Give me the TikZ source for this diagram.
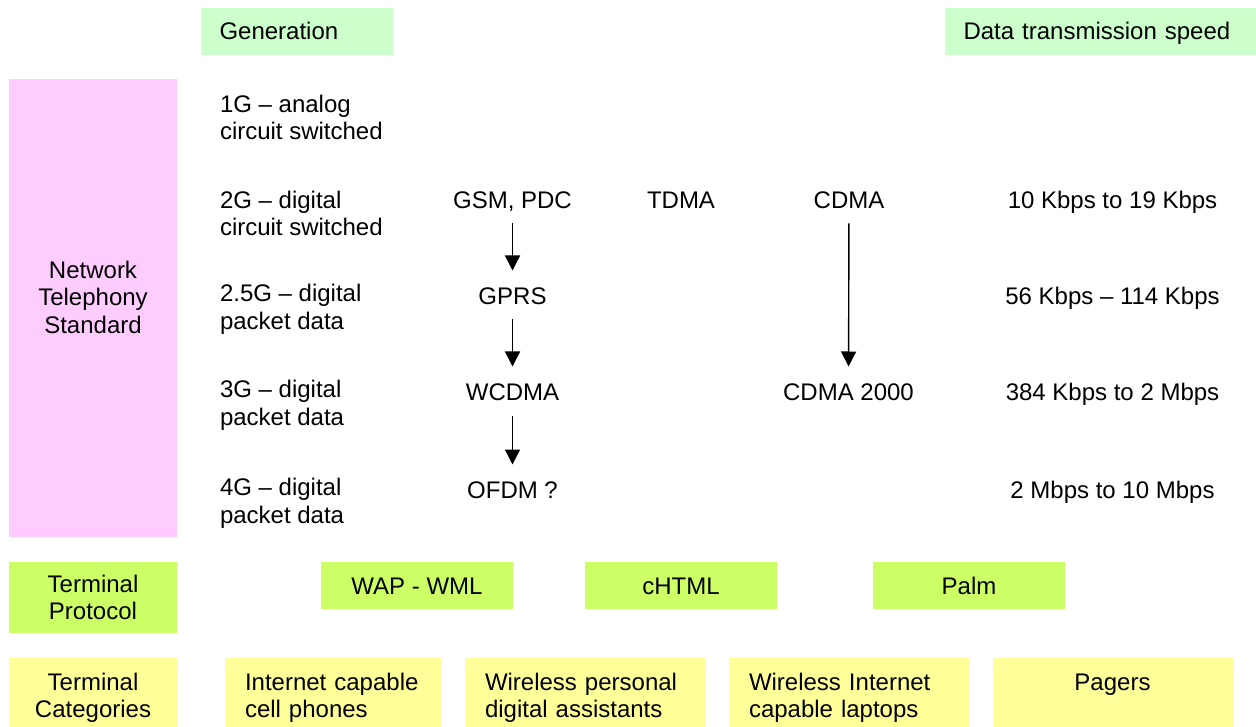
\documentclass[tikz,border=0pt]{standalone}
\usepackage{fontspec}
\setmainfont{Liberation Sans}
\usepackage{xcolor}
\definecolor{green1}{RGB}{204,255,204}
\definecolor{pink1}{RGB}{255,204,255}
\definecolor{lime1}{RGB}{204,255,102}
\definecolor{yellow1}{RGB}{255,255,153}
\usetikzlibrary{arrows.meta}

\begin{document}
\begin{tikzpicture}[x=1pt, y=-1pt, >={Triangle[width=15pt,length=15pt]},
  font=\fontsize{24}{27.5}\selectfont,
  every node/.style={inner sep=0pt, outer sep=0pt},
  entry/.style={text height=17pt, text depth=0pt},
  gen/.style={align=left, anchor=west},
  hdrbox/.style={fill=green1, minimum width=#1, minimum height=47pt,
    text width=#1-37pt, inner xsep=18.5pt, align=left, text height=17pt, text depth=0pt},
  protobox/.style={fill=lime1, minimum width=192pt, minimum height=47pt,
    text height=17pt, text depth=0pt},
  catbox/.style={fill=yellow1, minimum width=#1, minimum height=80pt,
    text width=#1-40pt, inner xsep=20pt, align=left},
  evo/.style={->, line width=1.4pt, shorten <=15pt, shorten >=17pt}]

  \clip (0,0) rectangle (1256,727);

  % Column headers
  \node[hdrbox=192pt] (generation) at (297,31.5) {Generation};
  \node[hdrbox=311pt] (speed) at (1100.5,31.5) {Data transmission speed};

  % Network telephony standard
  \node[fill=pink1, minimum width=168pt, minimum height=458pt] (ntsbox) at (93,308) {};
  \node[align=center] (nts) at (93,297) {Network\\Telephony\\Standard};

  % Generations
  \node[gen] (g1) at (220,117.5) {1G -- analog\\circuit switched};
  \node[gen] (g2) at (220,213.5) {2G -- digital\\circuit switched};
  \node[gen] (g25) at (220,309.5) {2.5G -- digital\\packet data};
  \node[gen] (g3) at (220,405.5) {3G -- digital\\packet data};
  \node[gen] (g4) at (220,503.5) {4G -- digital\\packet data};

  % Standards
  \node[entry] (gsm) at (512.5,200) {GSM, PDC};
  \node[entry] (tdma) at (681,200) {TDMA};
  \node[entry] (cdma) at (849,200) {CDMA};
  \node[entry] (gprs) at (512.5,296) {GPRS};
  \node[entry] (wcdma) at (512.5,392) {WCDMA};
  \node[entry] (cdma2k) at (848.5,392) {CDMA 2000};
  \node[entry] (ofdm) at (512.5,490) {OFDM ?};

  % Speeds
  \node[entry] (s2) at (1112.5,200) {10 Kbps to 19 Kbps};
  \node[entry] (s25) at (1112.5,296) {56 Kbps -- 114 Kbps};
  \node[entry] (s3) at (1112.5,392) {384 Kbps to 2 Mbps};
  \node[entry] (s4) at (1112.5,490) {2 Mbps to 10 Mbps};

  % Evolution arrows
  \draw[evo] (gsm) -- (gprs);
  \draw[evo] (gprs) -- (wcdma);
  \draw[evo] (wcdma) -- (ofdm);
  \draw[evo] (cdma) -- (cdma2k);

  % Terminal protocol
  \node[fill=lime1, minimum width=168pt, minimum height=71pt, align=center]
    (tproto) at (93,597.5) {Terminal\\Protocol};
  \node[protobox] (wap) at (417,585.5) {WAP - WML};
  \node[protobox] (chtml) at (681,585.5) {cHTML};
  \node[protobox] (palm) at (969,585.5) {Palm};

  % Terminal categories
  \node[fill=yellow1, minimum width=168pt, minimum height=80pt, align=center]
    (tcat) at (93,698) {Terminal\\Categories};
  \node[catbox=216pt] (phones) at (333,698) {Internet capable\\cell phones};
  \node[catbox=240pt] (pdas) at (585,698) {Wireless personal\\digital assistants};
  \node[catbox=240pt] (laptops) at (849,698) {Wireless Internet\\capable laptops};
  \node[fill=yellow1, minimum width=240pt, minimum height=80pt] (pagerbox) at (1113,698) {};
  \node[entry] (pagers) at (1112.5,682) {Pagers};
\end{tikzpicture}
\end{document}
